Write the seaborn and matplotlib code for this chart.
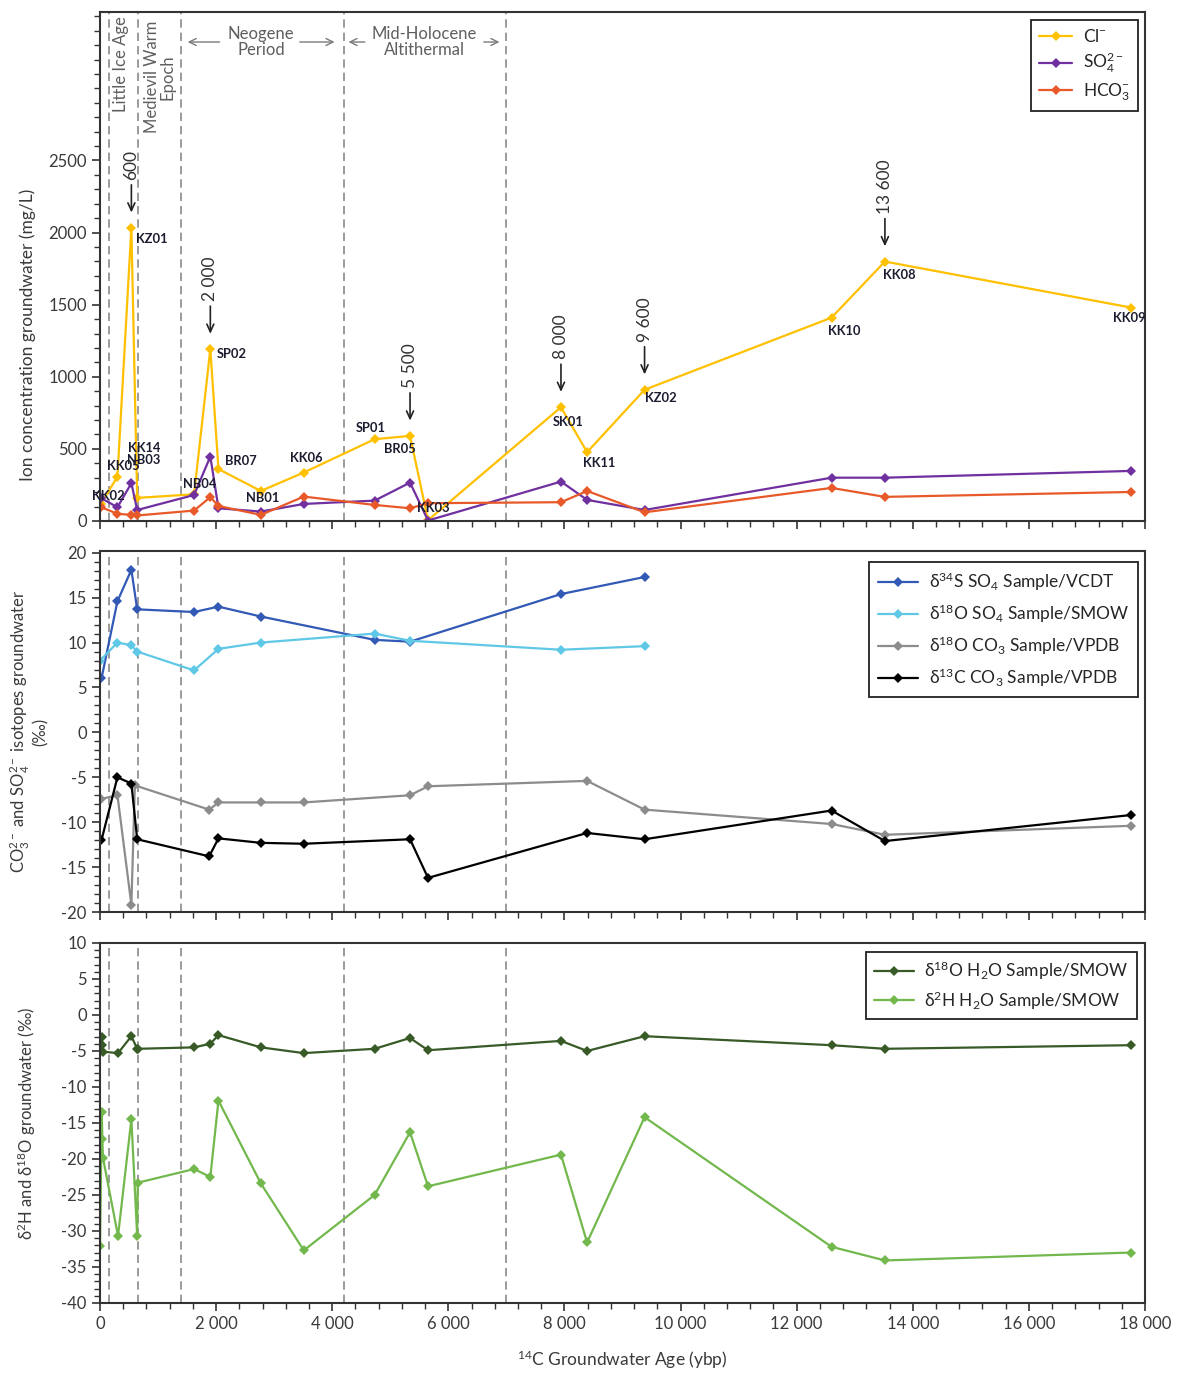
import numpy as np
import pandas as pd
import matplotlib
matplotlib.use("Agg")
import matplotlib.pyplot as plt
import seaborn as sns
from matplotlib.ticker import MultipleLocator, FixedLocator, FuncFormatter
from matplotlib.transforms import blended_transform_factory

# ---------------- data ----------------
ion_samples = ['KK02', 'KK05', 'KZ01', 'KK14\nNB03', 'NB04', 'SP02', 'BR07', 'NB01', 'KK06',
               'SP01', 'BR05', 'KK03', 'SK01', 'KK11', 'KZ02', 'KK10', 'KK08', 'KK09']
ion_age = [20, 300, 540, 640, 1620, 1900, 2040, 2770, 3510, 4730, 5340, 5650, 7940, 8390,
           9380, 12600, 13520, 17760]
cl = [120, 308, 2033, 160, 185, 1192, 360, 208, 336, 567, 590, 5, 789, 477, 910, 1410, 1799, 1480]
so4 = [158, 95, 262, 76, 180, 447, 88, 65, 118, 141, 266, 3, 273, 146, 76, 300, 300, 347]
hco3 = [95, 50, 42, 38, 72, 165, 104, 42, 169, 111, 88, 123, 130, 208, 60, 229, 167, 201]

note_samples = ['KZ01', 'SP02', 'BR05', 'SK01', 'KZ02', 'KK08']
note_texts = ['600', '2 000', '5 500', '8 000', '9 600', '13 600']

period_bounds = [150, 650, 1400, 4200, 7000]

so4iso_age = [25, 300, 540, 640, 1620, 2040, 2770, 4730, 5340, 7940, 9380]
d34s_so4 = [6.0, 14.6, 18.1, 13.7, 13.4, 14.0, 12.9, 10.3, 10.1, 15.4, 17.3]
d18o_so4_age = [0, 300, 540, 640, 1620, 2040, 2770, 4730, 5340, 7940, 9380]
d18o_so4 = [8.0, 10.0, 9.7, 9.0, 6.9, 9.3, 10.0, 11.0, 10.2, 9.2, 9.6]

co3_age = [25, 300, 540, 600, 1880, 2040, 2770, 3510, 5340, 5650, 8390, 9380, 12600, 13520, 17760]
d18o_co3 = [-7.4, -7.0, -19.2, -5.9, -8.6, -7.8, -7.8, -7.8, -7.0, -6.0, -5.4, -8.6, -10.2, -11.4, -10.4]
d13c_age = [25, 300, 540, 640, 1880, 2040, 2770, 3510, 5340, 5650, 8390, 9380, 12600, 13520, 17760]
d13c_co3 = [-12.0, -5.0, -5.7, -11.9, -13.8, -11.8, -12.3, -12.4, -11.9, -16.2, -11.2, -11.9, -8.7, -12.1, -9.2]

h2o_age = [0, 30, 40, 50, 310, 540, 640, 650, 1620, 1900, 2040, 2770, 3510, 4730, 5340, 5650,
           7940, 8390, 9380, 12600, 13520, 17760]
d18o_h2o = [-4.8, -3.1, -4.2, -5.1, -5.3, -2.95, -4.7, -4.7, -4.5, -4.0, -2.8, -4.5, -5.3, -4.7,
            -3.2, -4.9, -3.6, -5.0, -2.95, -4.2, -4.7, -4.2]
d2h_h2o = [-32.1, -13.5, -17.2, -19.8, -30.7, -14.5, -30.7, -23.3, -21.4, -22.5, -11.9, -23.4,
           -32.7, -25.0, -16.3, -23.8, -19.4, -31.6, -14.2, -32.2, -34.1, -33.0]

# ---------------- style ----------------
sns.set_style("ticks")
plt.rcParams['font.family'] = ['Lato', 'DejaVu Sans']
plt.rcParams['mathtext.fontset'] = 'custom'
plt.rcParams['mathtext.rm'] = 'Lato'
plt.rcParams['mathtext.it'] = 'Lato:italic'
plt.rcParams['mathtext.bf'] = 'Lato:bold'
plt.rcParams['mathtext.default'] = 'regular'
plt.rcParams['axes.unicode_minus'] = False

TXT = '#3a3a3a'
C_CL, C_SO4, C_HCO3 = '#FFC000', '#7030A0', '#E8592A'
C_D34S, C_D18OS, C_D18OC, C_D13C = '#3159B5', '#5FC8E6', '#8C8C8C', '#000000'
C_O18W, C_H2W = '#375A27', '#72B84C'

fig = plt.figure(figsize=(11.88, 13.76), dpi=100)
ax1 = fig.add_axes([0.0842, 0.6214, 0.8796, 0.3699])
ax2 = fig.add_axes([0.0842, 0.3372, 0.8796, 0.2624])
ax3 = fig.add_axes([0.0842, 0.0531, 0.8796, 0.2616])
axes = [ax1, ax2, ax3]


def draw(ax, x, y, color, label, lw=1.6, ms=5.5):
    df = pd.DataFrame({'age': x, 'val': y})
    sns.lineplot(data=df, x='age', y='val', ax=ax, color=color, marker='D', markersize=ms,
                 markeredgewidth=0, linewidth=lw, sort=False, estimator=None, label=label)


def fmt_thousands(v, pos):
    return f"{int(round(v)):,}".replace(',', ' ')


for ax in axes:
    ax.set_xlim(0, 18000)
    ax.xaxis.set_major_locator(MultipleLocator(2000))
    ax.xaxis.set_minor_locator(MultipleLocator(400))
    ax.tick_params(which='major', direction='out', length=6, width=1.2, color='#333333',
                   labelsize=12, labelcolor=TXT)
    ax.tick_params(which='minor', direction='out', length=4, width=1.0, color='#333333')
    for s in ax.spines.values():
        s.set_color('#333333')
        s.set_linewidth(1.5)
    for v in period_bounds:
        ax.axvline(v, color='#8a8a8a', ls=(0, (5, 3)), lw=1.2, zorder=0)

# ---------------- top panel ----------------
draw(ax1, ion_age, cl, C_CL, r'Cl$^{-}$')
draw(ax1, ion_age, so4, C_SO4, r'SO$_4^{2-}$')
draw(ax1, ion_age, hco3, C_HCO3, r'HCO$_3^{-}$')
ax1.set_ylim(0, 3530)
ax1.yaxis.set_major_locator(FixedLocator([0, 500, 1000, 1500, 2000, 2500]))
ax1.yaxis.set_minor_locator(MultipleLocator(100))
ax1.tick_params(labelbottom=False)
ax1.set_xlabel('')
ax1.set_ylabel('Ion concentration groundwater (mg/L)', fontsize=12.5, color=TXT)
ax1.yaxis.set_label_coords(-0.061, 0.365)

label_offsets = [(7, 8), (6, 11), (20, -11), (7, 44), (6, 10), (21, -5), (22, 8), (2, -7),
                 (2, 15), (-4, 11), (-10, -13), (5, 12), (7, -15), (12, -11), (16, -8),
                 (13, -13), (14, -13), (-2, -10)]
for name, a, c, off in zip(ion_samples, ion_age, cl, label_offsets):
    ax1.annotate(name, xy=(a, c), xytext=off, textcoords='offset pixels', ha='center',
                 va='center', fontsize=9.3, fontweight='bold', color='#1c1c30',
                 linespacing=0.95, zorder=6)

for name, txt in zip(note_samples, note_texts):
    i = ion_samples.index(name)
    a, c = ion_age[i], cl[i]
    ax1.annotate('', xy=(a, c), xytext=(0, 43), textcoords='offset pixels',
                 arrowprops=dict(arrowstyle='->,head_length=0.55,head_width=0.25',
                                 color='#222222', lw=1.2, shrinkA=0, shrinkB=11))
    ax1.annotate(txt, xy=(a, c), xytext=(0, 48), textcoords='offset pixels', rotation=90,
                 ha='center', va='bottom', fontsize=12.5, color='#333333')

trans = blended_transform_factory(ax1.transData, ax1.transAxes)
ax1.text(360, 0.898, 'Little Ice Age', transform=trans, rotation=90, ha='center',
         va='center', fontsize=12, color='#5f5f5f')
ax1.text(1030, 0.872, 'Medievil Warm\nEpoch', transform=trans, rotation=90, ha='center',
         va='center', multialignment='center', fontsize=12, color='#5f5f5f', linespacing=1.0)
ax1.text(2770, 0.941, 'Neogene\nPeriod', transform=trans, ha='center', va='center',
         fontsize=12, color='#5f5f5f', linespacing=0.95)
ax1.text(5585, 0.941, 'Mid-Holocene\nAltithermal', transform=trans, ha='center',
         va='center', fontsize=12, color='#5f5f5f', linespacing=0.95)
for x0, x1 in [(2060, 1510), (3440, 4040), (4560, 4280), (6610, 6880)]:
    ax1.annotate('', xy=(x1, 0.941), xytext=(x0, 0.941), xycoords=trans, textcoords=trans,
                 arrowprops=dict(arrowstyle='->,head_length=0.5,head_width=0.25',
                                 color='#7a7a7a', lw=1.0, shrinkA=0, shrinkB=0))

leg1 = ax1.legend(loc='upper right', bbox_to_anchor=(0.993, 0.984), borderaxespad=0,
                  fontsize=12.5, frameon=True, fancybox=False, edgecolor='#222222',
                  framealpha=1, handlelength=1.9, handletextpad=0.6, labelspacing=0.35,
                  borderpad=0.45)
leg1.get_frame().set_linewidth(1.3)

# ---------------- middle panel ----------------
draw(ax2, so4iso_age, d34s_so4, C_D34S, r'δ$^{34}$S SO$_4$ Sample/VCDT')
draw(ax2, d18o_so4_age, d18o_so4, C_D18OS, r'δ$^{18}$O SO$_4$ Sample/SMOW')
draw(ax2, co3_age, d18o_co3, C_D18OC, r'δ$^{18}$O CO$_3$ Sample/VPDB')
draw(ax2, d13c_age, d13c_co3, C_D13C, r'δ$^{13}$C CO$_3$ Sample/VPDB')
ax2.set_ylim(-20, 20.2)
ax2.yaxis.set_major_locator(MultipleLocator(5))
ax2.yaxis.set_minor_locator(MultipleLocator(1))
ax2.tick_params(labelbottom=False)
ax2.set_xlabel('')
ax2.set_ylabel('CO$_3^{2-}$ and SO$_4^{2-}$ isotopes groundwater\n(‰)', fontsize=12,
               color=TXT, linespacing=1.05)
ax2.yaxis.set_label_coords(-0.049, 0.5)
leg2 = ax2.legend(loc='upper right', bbox_to_anchor=(0.993, 0.970), borderaxespad=0,
                  fontsize=12.5, frameon=True, fancybox=False, edgecolor='#222222',
                  framealpha=1, handlelength=2.3, handletextpad=0.6, labelspacing=0.55,
                  borderpad=0.5)
leg2.get_frame().set_linewidth(1.3)

# ---------------- bottom panel ----------------
draw(ax3, h2o_age, d18o_h2o, C_O18W, r'δ$^{18}$O H$_2$O Sample/SMOW')
draw(ax3, h2o_age, d2h_h2o, C_H2W, r'δ$^{2}$H H$_2$O Sample/SMOW')
ax3.set_ylim(-40, 10)
ax3.yaxis.set_major_locator(MultipleLocator(5))
ax3.yaxis.set_minor_locator(MultipleLocator(1))
ax3.xaxis.set_major_formatter(FuncFormatter(fmt_thousands))
ax3.set_xlabel(r'$^{14}$C Groundwater Age (ybp)', fontsize=12.5, color=TXT, labelpad=12)
ax3.set_ylabel(r'δ$^{2}$H and δ$^{18}$O groundwater (‰)', fontsize=12, color=TXT)
ax3.yaxis.set_label_coords(-0.059, 0.5)
leg3 = ax3.legend(loc='upper right', bbox_to_anchor=(0.992, 0.975), borderaxespad=0,
                  fontsize=12.5, frameon=True, fancybox=False, edgecolor='#222222',
                  framealpha=1, handlelength=2.3, handletextpad=0.6, labelspacing=0.4,
                  borderpad=0.45)
leg3.get_frame().set_linewidth(1.3)

fig.savefig('out.png', dpi=100, facecolor='white')
